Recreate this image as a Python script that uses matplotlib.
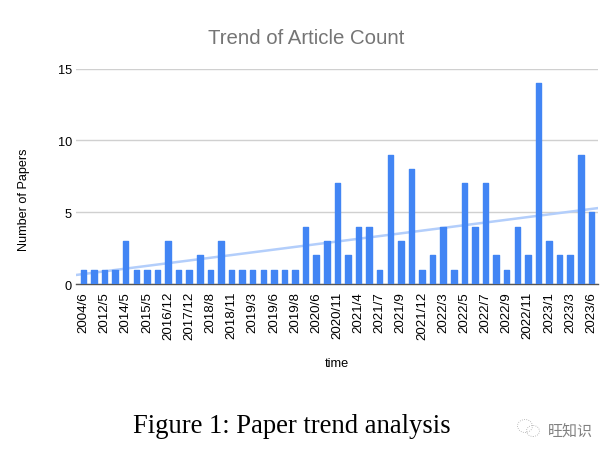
import numpy as np
import matplotlib
matplotlib.use('Agg')
import matplotlib.pyplot as plt
from matplotlib.patches import Ellipse

# --- DATA ---
months = ['2004/6', '', '2012/5', '', '2014/5', '', '2015/5', '', '2016/12', '',
          '2017/12', '', '2018/8', '', '2018/11', '', '2019/3', '', '2019/6', '',
          '2019/8', '', '2020/6', '', '2020/11', '', '2021/4', '', '2021/7', '',
          '2021/9', '', '2021/12', '', '2022/3', '', '2022/5', '', '2022/7', '',
          '2022/9', '', '2022/11', '', '2023/1', '', '2023/3', '', '2023/6']
papers = [1, 1, 1, 1, 3, 1, 1, 1, 3, 1, 1, 2, 1, 3, 1, 1, 1, 1, 1, 1, 1, 4, 2, 3, 7,
          2, 4, 4, 1, 9, 3, 8, 1, 2, 4, 1, 7, 4, 7, 2, 1, 4, 2, 14, 3, 2, 2, 9, 5]
y_ticks = [0, 5, 10, 15]

W, H = 611, 456
plt.rcParams['font.family'] = ['Liberation Sans', 'DejaVu Sans']

fig = plt.figure(figsize=(W / 100, H / 100), dpi=100)
ax = fig.add_axes([76 / W, 1 - 285 / H, (597.7 - 76) / W, (285 - 69.5) / H])

x = np.arange(len(papers))
ax.bar(x, papers, width=0.52, color='#4285f4', edgecolor='#4285f4',
       linewidth=1.0, joinstyle='round', zorder=3)

# trend line, same as the sheet's linear fit
xlim = (-0.7, 48.6)
slope, icpt = np.polyfit(x, papers, 1)
tx = np.array(xlim)
ax.plot(tx, slope * tx + icpt, color='#b3cefb', linewidth=1.8, zorder=2)

ax.set_xlim(*xlim)
ax.set_ylim(0, 15)
ax.set_yticks(y_ticks)
ax.tick_params(axis='y', length=0, pad=3, labelsize=9.2)
ax.set_xticks(x[::2])
ax.set_xticklabels(months[::2], rotation=90, fontsize=9.6)
ax.tick_params(axis='x', length=0, pad=5)
ax.grid(axis='y', color='#d0d0d0', linewidth=1, zorder=0)
for s in ['top', 'left', 'right']:
    ax.spines[s].set_visible(False)
ax.spines['bottom'].set_color('#555555')
ax.spines['bottom'].set_linewidth(1)

fig.text(306.5 / W, 1 - 38.5 / H, 'Trend of Article Count', fontsize=14.7, color='#757575',
         ha='center', va='center')
fig.text(24.5 / W, 1 - 200 / H, 'Number of Papers', fontsize=9.1, rotation=90,
         ha='center', va='center')
fig.text(336.5 / W, 1 - 364 / H, 'time', fontsize=9.2, ha='center', va='center')
fig.text(292 / W, 1 - 426.5 / H, 'Figure 1: Paper trend analysis', fontsize=19.2,
         family='Liberation Serif', ha='center', va='center')

# watermark
fig.text(570 / W, 1 - 431 / H, '旺知识', fontsize=10.8, color='#808080',
         family=['Noto Sans CJK SC', 'DejaVu Sans'], ha='center', va='center')
for cx, cy, rx, ry in [(525, 427, 15, 13), (533, 432, 13, 11)]:
    fig.add_artist(Ellipse((cx / W, 1 - cy / H), rx / W, ry / H, fill=False,
                           edgecolor='#aaaaaa', linewidth=0.6, linestyle=':'))

fig.savefig('out.png', dpi=100)
